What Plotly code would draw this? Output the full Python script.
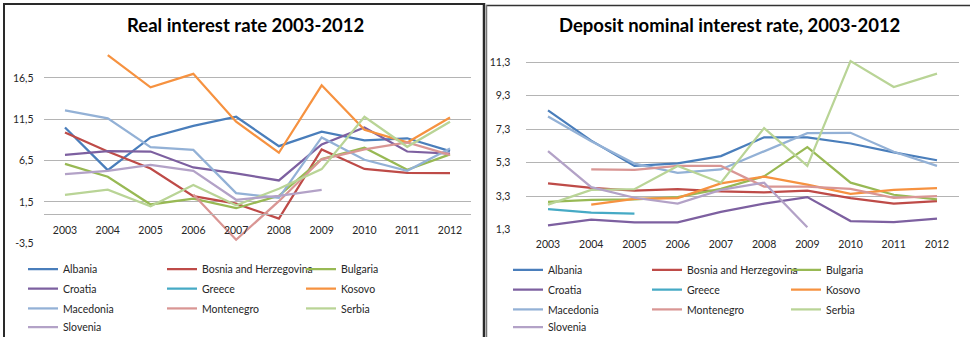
import plotly.graph_objects as go

W, H = 970, 342

years = ["2003", "2004", "2005", "2006", "2007", "2008", "2009", "2010", "2011", "2012"]
countries = ["Albania", "Bosnia and Herzegovina", "Bulgaria", "Croatia", "Greece",
             "Kosovo", "Macedonia", "Montenegro", "Serbia", "Slovenia"]
colors = ["#4A7EBB", "#BE4B48", "#98B954", "#7D60A0", "#46AAC5",
          "#F69240", "#93B1D6", "#D99694", "#B9D496", "#B3A2C7"]

# Real interest rate 2003-2012
real_albania = [10.5, 5.35, 9.3, 10.7, 11.8, 8.25, 10.0, 8.96, 9.2, 7.65]
real_bosnia = [9.9, 7.6, 5.55, 2.2, 1.3, -0.5, 7.85, 5.5, 5.03, 5.0]
real_bulgaria = [6.1, 4.55, 1.2, 1.9, 0.75, 2.25, 6.7, 8.05, 5.4, 7.25]
real_croatia = [7.2, 7.65, 7.6, 5.67, 4.95, 4.1, 8.45, 10.5, 7.6, 7.35]
real_greece = [None] * 10
real_kosovo = [None, 19.24, 15.35, 16.98, 11.2, 7.45, 15.6, 10.23, 8.7, 11.7]
real_macedonia = [12.57, 11.6, 8.13, 7.8, 2.57, 2.0, 9.3, 6.6, 5.27, 7.97]
real_montenegro = [None, None, None, 2.4, -3.06, 1.6, 6.66, 7.85, 8.7, 7.2]
real_serbia = [2.37, 3.0, 0.99, 3.56, 1.1, 3.1, 5.47, 11.8, 8.17, 11.2]
real_slovenia = [4.87, 5.27, 5.99, 5.27, 1.77, 2.25, 2.97, None, None, None]

# Deposit nominal interest rate 2003-2012
dep_albania = [8.42, 6.61, 5.1, 5.26, 5.69, 6.81, 6.8, 6.44, 5.91, 5.44]
dep_bosnia = [4.06, 3.79, 3.63, 3.71, 3.58, 3.52, 3.63, 3.18, 2.85, 3.0]
dep_bulgaria = [2.96, 3.08, 3.1, 3.24, 3.73, 4.48, 6.22, 4.1, 3.38, 3.1]
dep_croatia = [1.55, 1.9, 1.73, 1.73, 2.36, 2.85, 3.24, 1.81, 1.75, 1.95]
dep_greece = [2.52, 2.32, 2.26, None, None, None, None, None, None, None]
dep_kosovo = [None, 2.79, 3.14, 3.18, 4.06, 4.46, 3.99, 3.43, 3.67, 3.77]
dep_macedonia = [8.05, 6.58, 5.24, 4.69, 4.89, 5.99, 7.06, 7.08, 5.95, 5.1]
dep_montenegro = [None, 4.89, 4.87, 5.1, 5.1, 3.87, 3.87, 3.73, 3.2, 3.3]
dep_serbia = [2.79, 3.67, 3.71, 5.1, 4.1, 7.36, 5.1, 11.36, 9.81, 10.61]
dep_slovenia = [5.99, 3.83, 3.2, 2.85, 3.67, 4.1, 1.44, None, None, None]

real_ticks = [-3.5, 1.5, 6.5, 11.5, 16.5]
real_ticktext = ["-3,5", "1,5", "6,5", "11,5", "16,5"]
dep_ticks = [1.3, 3.3, 5.3, 7.3, 9.3, 11.3]
dep_ticktext = ["1,3", "3,3", "5,3", "7,3", "9,3", "11,3"]

real_series = [real_albania, real_bosnia, real_bulgaria, real_croatia, real_greece,
               real_kosovo, real_macedonia, real_montenegro, real_serbia, real_slovenia]
dep_series = [dep_albania, dep_bosnia, dep_bulgaria, dep_croatia, dep_greece,
              dep_kosovo, dep_macedonia, dep_montenegro, dep_serbia, dep_slovenia]

FONT = "Lato, 'Open Sans', sans-serif"


def px_x(p):
    return p / W


def px_y(p):
    return 1 - p / H


fig = go.Figure()

for i, (name, col) in enumerate(zip(countries, colors)):
    row = i // 3
    lg_left = "legend" if row == 0 else "legend%d" % (row + 1)
    lg_right = "legend%d" % (row + 5)
    fig.add_trace(go.Scatter(x=years, y=real_series[i], name=name, mode="lines",
                             line=dict(color=col, width=2.25), xaxis="x", yaxis="y",
                             legend=lg_left, connectgaps=False))
    fig.add_trace(go.Scatter(x=years, y=dep_series[i], name=name, mode="lines",
                             line=dict(color=col, width=2.25), xaxis="x2", yaxis="y2",
                             legend=lg_right, connectgaps=False))

# Left panel geometry
l_y0, l_y1 = px_y(247), px_y(37)
l_range = [-3.5, 21.5]
zero_pos = l_y0 + (0 - l_range[0]) / (l_range[1] - l_range[0]) * (l_y1 - l_y0)
cat_range = [-0.5, len(years) - 0.5]

grid = "#B4B4B4"
tickfont = dict(family=FONT, size=10.5, color="#262626")

layout = dict(
    width=W, height=H,
    margin=dict(l=0, r=0, t=0, b=0),
    paper_bgcolor="white", plot_bgcolor="white",
    showlegend=True,
    xaxis=dict(domain=[px_x(43.6), px_x(471.4)], type="category", anchor="free",
               range=cat_range,
               position=zero_pos, showline=True, linecolor=grid, linewidth=1,
               showgrid=False, ticks="", tickfont=tickfont, ticklabelstandoff=6,
               fixedrange=True),
    yaxis=dict(domain=[l_y0, l_y1], range=l_range, tickvals=real_ticks,
               ticktext=real_ticktext, showgrid=True, gridcolor=grid, gridwidth=1,
               zeroline=False, showline=False, ticks="", tickfont=tickfont,
               ticklabelstandoff=9, anchor="x"),
    xaxis2=dict(domain=[px_x(526.4), px_x(958.6)], type="category", anchor="y2",
                range=cat_range,
                showline=False, showgrid=False, ticks="", tickfont=tickfont,
                ticklabelstandoff=7),
    yaxis2=dict(domain=[px_y(233), px_y(46)], range=[1.3, 12.3], tickvals=dep_ticks,
                ticktext=dep_ticktext, showgrid=True, gridcolor=grid, gridwidth=1,
                zeroline=False, showline=False, ticks="", tickfont=tickfont,
                ticklabelstandoff=15, anchor="x2"),
    annotations=[
        dict(text="<b>Real interest rate 2003-2012</b>", x=px_x(245), y=px_y(25),
             xref="paper", yref="paper", showarrow=False, xanchor="center",
             yanchor="middle", font=dict(family=FONT, size=18.5, color="black")),
        dict(text="<b>Deposit nominal interest rate, 2003-2012</b>", x=px_x(729),
             y=px_y(25), xref="paper", yref="paper", showarrow=False,
             xanchor="center", yanchor="middle",
             font=dict(family=FONT, size=18.5, color="black")),
    ],
    shapes=[
        dict(type="line", xref="paper", yref="paper", x0=px_x(3), x1=px_x(485),
             y0=px_y(4), y1=px_y(4), line=dict(color="#2A2A2A", width=2)),
        dict(type="line", xref="paper", yref="paper", x0=px_x(4), x1=px_x(4),
             y0=px_y(3), y1=px_y(342), line=dict(color="#2A2A2A", width=2)),
        dict(type="line", xref="paper", yref="paper", x0=px_x(484), x1=px_x(484),
             y0=px_y(3), y1=px_y(342), line=dict(color="#2A2A2A", width=2.5)),
        dict(type="line", xref="paper", yref="paper", x0=px_x(486), x1=px_x(970),
             y0=px_y(5.5), y1=px_y(5.5), line=dict(color="#333333", width=1.5)),
        dict(type="line", xref="paper", yref="paper", x0=px_x(486.5), x1=px_x(486.5),
             y0=px_y(5), y1=px_y(342), line=dict(color="#777777", width=1.5)),
    ],
)

legfont = dict(family=FONT, size=10.5, color="#262626")
left_rows = [273, 293, 313, 332]
right_rows = [274, 294, 314, 332]
for r in range(4):
    key_l = "legend" if r == 0 else "legend%d" % (r + 1)
    key_r = "legend%d" % (r + 5)
    layout[key_l] = dict(orientation="h", x=px_x(23), y=px_y(left_rows[r]),
                         xanchor="left", yanchor="middle", entrywidth=94,
                         font=legfont, bgcolor="rgba(0,0,0,0)", borderwidth=0,
                         traceorder="normal")
    layout[key_r] = dict(orientation="h", x=px_x(508), y=px_y(right_rows[r]),
                         xanchor="left", yanchor="middle", entrywidth=94,
                         font=legfont, bgcolor="rgba(0,0,0,0)", borderwidth=0,
                         traceorder="normal")

fig.update_layout(**layout)
fig.write_html("out.html", config={"displayModeBar": False},
               post_script="document.body.style.margin='0';document.body.style.padding='0';")
